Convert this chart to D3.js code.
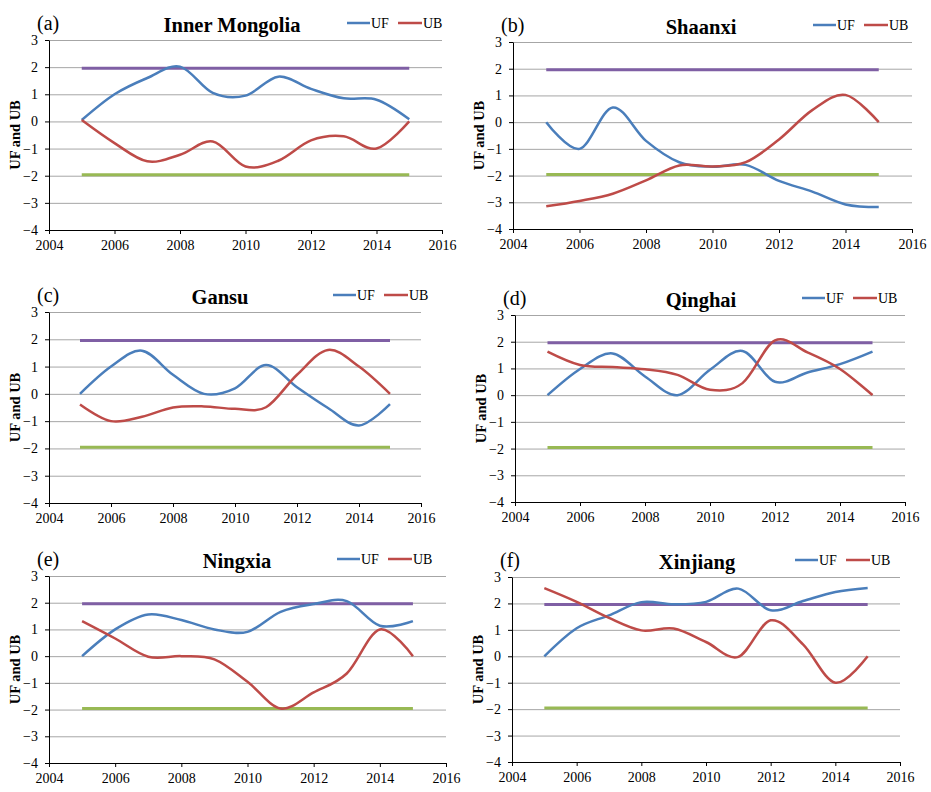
<!DOCTYPE html>
<html>
<head>
<meta charset="utf-8">
<script src="https://cdn.jsdelivr.net/npm/d3@7/dist/d3.min.js"></script>
<style>
  body { margin: 0; background: #fff; }
  svg text { font-family: "Liberation Serif", "Times New Roman", serif; }
</style>
</head>
<body>
<div id="chart"></div>
<script>
// years of the Mann-Kendall test
var years = [2005, 2006, 2007, 2008, 2009, 2010, 2011, 2012, 2013, 2014, 2015];
var xTicks = [2004, 2006, 2008, 2010, 2012, 2014, 2016];
var yTicks = [-4, -3, -2, -1, 0, 1, 2, 3];
var upperLimit = 1.96, lowerLimit = -1.96;

var regions = ["Inner Mongolia", "Shaanxi", "Gansu", "Qinghai", "Ningxia", "Xinjiang"];
var panelTags = ["(a)", "(b)", "(c)", "(d)", "(e)", "(f)"];

var ufInnerMongolia = [0.05, 1.0, 1.6, 2.02, 1.05, 0.95, 1.65, 1.2, 0.85, 0.8, 0.08];
var ubInnerMongolia = [0.05, -0.8, -1.47, -1.23, -0.74, -1.66, -1.45, -0.7, -0.55, -1.0, 0.0];
var ufShaanxi = [0.0, -1.0, 0.55, -0.7, -1.5, -1.67, -1.6, -2.2, -2.6, -3.08, -3.18];
var ubShaanxi = [-3.15, -2.95, -2.68, -2.18, -1.62, -1.66, -1.5, -0.65, 0.45, 1.02, 0.0];
var ufGansu = [0.0, 1.0, 1.58, 0.7, 0.0, 0.2, 1.06, 0.24, -0.52, -1.16, -0.38];
var ubGansu = [-0.39, -1.0, -0.84, -0.5, -0.46, -0.55, -0.49, 0.7, 1.61, 1.0, 0.0];
var ufQinghai = [0.0, 0.98, 1.56, 0.7, 0.0, 0.95, 1.65, 0.5, 0.85, 1.16, 1.63];
var ubQinghai = [1.63, 1.13, 1.05, 0.97, 0.76, 0.2, 0.45, 2.05, 1.6, 0.98, 0.0];
var ufNingxia = [0.0, 1.0, 1.56, 1.35, 1.0, 0.91, 1.66, 1.95, 2.06, 1.14, 1.31];
var ubNingxia = [1.31, 0.66, -0.02, 0.0, -0.12, -0.96, -1.96, -1.36, -0.65, 1.0, 0.0];
var ufXinjiang = [0.0, 1.06, 1.55, 2.05, 1.97, 2.06, 2.56, 1.74, 2.09, 2.43, 2.58];
var ubXinjiang = [2.58, 2.06, 1.45, 0.98, 1.05, 0.54, -0.02, 1.36, 0.45, -1.0, 0.0];

var ufSeries = [ufInnerMongolia, ufShaanxi, ufGansu, ufQinghai, ufNingxia, ufXinjiang];
var ubSeries = [ubInnerMongolia, ubShaanxi, ubGansu, ubQinghai, ubNingxia, ubXinjiang];

// plot boxes (left, top, right, bottom) and header positions for each panel
var boxes = [
  {l: 49, t: 40, r: 442, b: 230, title: 232, legend: 347},
  {l: 513, t: 42, r: 912, b: 229, title: 701, legend: 813},
  {l: 49, t: 312, r: 421, b: 503, title: 220, legend: 333},
  {l: 515, t: 315, r: 905, b: 502, title: 701, legend: 802},
  {l: 49, t: 576, r: 446, b: 763, title: 237, legend: 337},
  {l: 512, t: 577, r: 900, b: 762, title: 697, legend: 795}
];

var colUF = "#4a7ebb", colUB = "#be4b48", colUp = "#7f5fa4", colLow = "#98b954";

var svg = d3.select("#chart").append("svg").attr("width", 931).attr("height", 792);

regions.forEach(function(name, i){
  var bx = boxes[i];
  var x = d3.scaleLinear().domain([2004, 2016]).range([bx.l, bx.r]);
  var y = d3.scaleLinear().domain([-4, 3]).range([bx.b, bx.t]);
  var g = svg.append("g");

  // gridlines
  g.selectAll(".grid").data(yTicks.filter(function(v){ return v > -4; })).enter().append("line")
    .attr("x1", bx.l).attr("x2", bx.r)
    .attr("y1", function(d){ return y(d) + 0.5; }).attr("y2", function(d){ return y(d) + 0.5; })
    .attr("stroke", "#a6a6a6").attr("stroke-width", 1);

  // axes
  var ax = g.append("g").attr("transform", "translate(0," + bx.b + ")")
    .call(d3.axisBottom(x).tickValues(xTicks).tickFormat(d3.format("d")).tickSize(4).tickSizeOuter(0));
  var ay = g.append("g").attr("transform", "translate(" + bx.l + ",0)")
    .call(d3.axisLeft(y).tickValues(yTicks).tickFormat(d3.format("d")).tickSize(4).tickSizeOuter(0));
  [ax, ay].forEach(function(a){
    a.selectAll("path, line").attr("stroke", "#000").attr("stroke-width", 1);
    a.selectAll("text").attr("font-size", 14).attr("fill", "#000")
      .style("font-family", "'Liberation Serif', serif");
  });
  ax.selectAll("text").attr("y", 9).attr("dy", "0.8em");
  ay.selectAll("text").attr("x", -11);

  // significance limits
  [[upperLimit, colUp], [lowerLimit, colLow]].forEach(function(p){
    g.append("line")
      .attr("x1", x(years[0])).attr("x2", x(years[years.length - 1]))
      .attr("y1", y(p[0])).attr("y2", y(p[0]))
      .attr("stroke", p[1]).attr("stroke-width", 3);
  });

  var line = d3.line().curve(d3.curveCardinal.tension(0))
    .x(function(d, k){ return x(years[k]); })
    .y(function(d){ return y(d); });

  g.append("path").datum(ufSeries[i]).attr("d", line)
    .attr("fill", "none").attr("stroke", colUF).attr("stroke-width", 2.5);
  g.append("path").datum(ubSeries[i]).attr("d", line)
    .attr("fill", "none").attr("stroke", colUB).attr("stroke-width", 2.5);

  // y title
  g.append("text")
    .attr("transform", "translate(" + (bx.l - 29) + "," + ((bx.t + bx.b) / 2) + ") rotate(-90)")
    .attr("text-anchor", "middle").attr("font-size", 14.5).attr("font-weight", "bold")
    .text("UF and UB");

  // panel tag and title
  g.append("text").attr("x", bx.l - 12).attr("y", bx.t - 10)
    .attr("font-size", 20).text(panelTags[i]);
  g.append("text").attr("x", bx.title).attr("y", bx.t - 8)
    .attr("text-anchor", "middle").attr("font-size", 20.5).attr("font-weight", "bold")
    .text(name);

  // legend
  var lg = g.append("g").attr("transform", "translate(" + bx.legend + "," + (bx.t - 17) + ")");
  lg.append("line").attr("x1", 0).attr("x2", 23).attr("stroke", colUF).attr("stroke-width", 2.5);
  lg.append("text").attr("x", 24).attr("dy", "0.35em").attr("font-size", 14).text("UF");
  lg.append("line").attr("x1", 51).attr("x2", 75).attr("stroke", colUB).attr("stroke-width", 2.5);
  lg.append("text").attr("x", 76).attr("dy", "0.35em").attr("font-size", 14).text("UB");
});
</script>
</body>
</html>
